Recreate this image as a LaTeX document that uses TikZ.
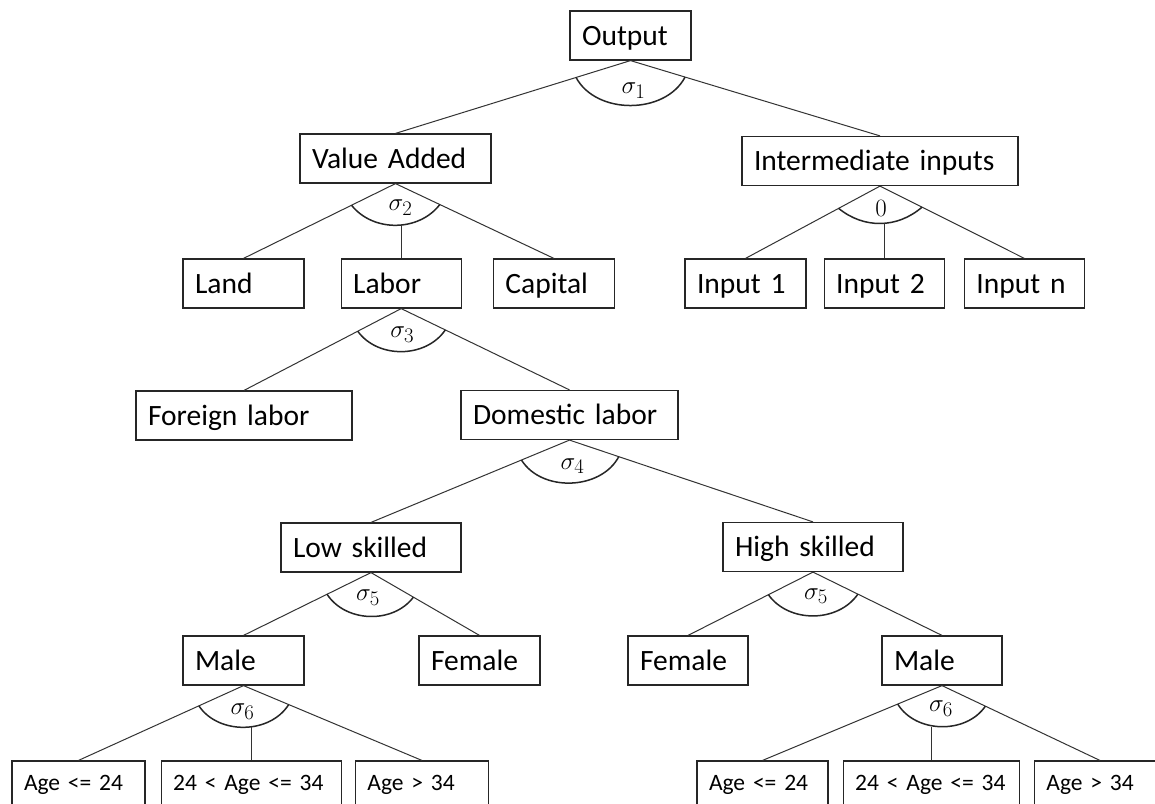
\documentclass[tikz,border=0pt]{standalone}
\usepackage{fontspec}
\setmainfont{Carlito}
\usetikzlibrary{positioning, calc}
\tikzset{
  box1/.style = {
    shape = rectangle,
    draw = black!85,
    line width = 1.2pt,
    text width = #1,
    align = left,
    inner xsep = 12pt,
    inner ysep = 4pt,
    minimum height = 49pt,
    text height = 26.4pt,
    text depth = 7.4pt,
    font = \fontsize{29.5}{32}\selectfont,
  },
  box2/.style = {
    box1 = #1,
    text height = 22pt,
    text depth = 13pt,
    font = \fontsize{23.5}{28}\selectfont,
  }
}
\tikzset{
  line1/.style = {
    draw = black!80, line width = 1pt,
  },
  arc1/.style = {
    draw = black!85, line width = 1.5pt,
  },
  sig1/.style = {
    inner sep = 0pt, font = \fontsize{28}{30}\selectfont,
  }
}

\begin{document}
\begin{tikzpicture}[x = 1pt, y = -1pt]
        \path[use as bounding box, fill = white] (0,0) rectangle (1155,803);
        % top levels
        \node[box1 = 97pt](out) at (630.5,35.5){Output};
        \node[box1 = 167pt](va) at (395.5,158.5){Value Added};
        \node[box1 = 252pt](ii) at (880,161){Intermediate inputs};
        \node[box1 = 97pt](land) at (243.5,283.5){Land};
        \node[box1 = 96pt, right = 36pt of land](labor){Labor};
        \node[box1 = 97pt, right = 31pt of labor](capital){Capital};
        \node[box1 = 97pt](in1) at (745.5,283.5){Input 1};
        \node[box1 = 96pt, right = 17pt of in1](in2){Input 2};
        \node[box1 = 96pt, right = 19pt of in2](inn){Input n};
        \node[box1 = 192pt](foreign) at (244,415.5){Foreign labor};
        \node[box1 = 193pt](domestic) at (569.5,415){Domestic labor};
        \node[box1 = 156pt](low) at (371,547.5){Low skilled};
        \node[box1 = 156pt](high) at (813,547){High skilled};
        \node[box1 = 97pt](malel) at (243.5,660.5){Male};
        \node[box1 = 97pt](femalel) at (479.5,660.5){Female};
        \node[box1 = 96pt](femaler) at (688,660.5){Female};
        \node[box1 = 96pt](maler) at (942,660.5){Male};
        % age groups
        \node[box2 = 109pt](agel1) at (78.5,785.5){\mbox{Age <= 24}};
        \node[box2 = 156pt, right = 15pt of agel1](agel2){\mbox{24 < Age <= 34}};
        \node[box2 = 109pt, right = 13pt of agel2](agel3){\mbox{Age > 34}};
        \node[box2 = 107pt](ager1) at (762.5,785.5){\mbox{Age <= 24}};
        \node[box2 = 152pt, right = 14pt of ager1](ager2){\mbox{24 < Age <= 34}};
        \node[box2 = 107pt, right = 14pt of ager2](ager3){\mbox{Age > 34}};
        % Output
        \draw[line1](out.south) -- (va.north);
        \draw[line1](out.south) -- (ii.north);
        \draw[arc1]($(out.south)!57pt!(va.north)$) to[bend right = 62] ($(out.south)!57pt!(ii.north)$);
        \node[sig1] at ($(out.south)+(3,30)$){$\sigma_1$};
        % Value Added
        \draw[line1](va.south) -- (land.north);
        \draw[line1](va.south) -- (capital.north);
        \draw[arc1]($(va.south)!49pt!(land.north)$) to[bend right = 52] coordinate[pos = 0.5](m2) ($(va.south)!49pt!(capital.north)$);
        \draw[line1](labor.north |- m2) -- (labor.north);
        \node[sig1] at ($(va.south)+(5,24)$){$\sigma_2$};
        % Intermediate inputs
        \draw[line1](ii.south) -- (in1.north);
        \draw[line1](ii.south) -- (inn.north);
        \draw[arc1]($(ii.south)!47pt!(in1.north)$) to[bend right = 40] coordinate[pos = 0.5](m0) ($(ii.south)!47pt!(inn.north)$);
        \draw[line1](in2.north |- m0) -- (in2.north);
        \node[sig1] at ($(ii.south)+(1,22)$){$0$};
        % Labor
        \draw[line1](labor.south) -- (foreign.north);
        \draw[line1](labor.south) -- (domestic.north);
        \draw[arc1]($(labor.south)!49pt!(foreign.north)$) to[bend right = 55] ($(labor.south)!49pt!(domestic.north)$);
        \node[sig1] at ($(labor.south)+(1,26)$){$\sigma_3$};
        % Domestic labor
        \draw[line1](domestic.south) -- (low.north);
        \draw[line1](domestic.south) -- (high.north);
        \draw[arc1]($(domestic.south)!52pt!(low.north)$) to[bend right = 60] ($(domestic.south)!52pt!(high.north)$);
        \node[sig1] at ($(domestic.south)+(3,26)$){$\sigma_4$};
        % Low skilled
        \draw[line1](low.south) -- (malel.north);
        \draw[line1](low.south) -- (femalel.north);
        \draw[arc1]($(low.south)!49pt!(malel.north)$) to[bend right = 55] ($(low.south)!49pt!(femalel.north)$);
        \node[sig1] at ($(low.south)+(-3,25)$){$\sigma_5$};
        % High skilled
        \draw[line1](high.south) -- (femaler.north);
        \draw[line1](high.south) -- (maler.north);
        \draw[arc1]($(high.south)!50pt!(femaler.north)$) to[bend right = 55] ($(high.south)!50pt!(maler.north)$);
        \node[sig1] at ($(high.south)+(3,24)$){$\sigma_5$};
        % Male, left
        \draw[line1](malel.south) -- (agel1.north);
        \draw[line1](malel.south) -- (agel3.north);
        \draw[arc1]($(malel.south)!49pt!(agel1.north)$) to[bend right = 57] coordinate[pos = 0.5](m6l) ($(malel.south)!49pt!(agel3.north)$);
        \draw[line1](agel2.north |- m6l) -- (agel2.north);
        \node[sig1] at ($(malel.south)+(-1,26)$){$\sigma_6$};
        % Male, right
        \draw[line1](maler.south) -- (ager1.north);
        \draw[line1](maler.south) -- (ager3.north);
        \draw[arc1]($(maler.south)!48pt!(ager1.north)$) to[bend right = 57] coordinate[pos = 0.5](m6r) ($(maler.south)!48pt!(ager3.north)$);
        \draw[line1](ager2.north |- m6r) -- (ager2.north);
        \node[sig1] at ($(maler.south)+(-1,23)$){$\sigma_6$};
    \end{tikzpicture}
\end{document}
